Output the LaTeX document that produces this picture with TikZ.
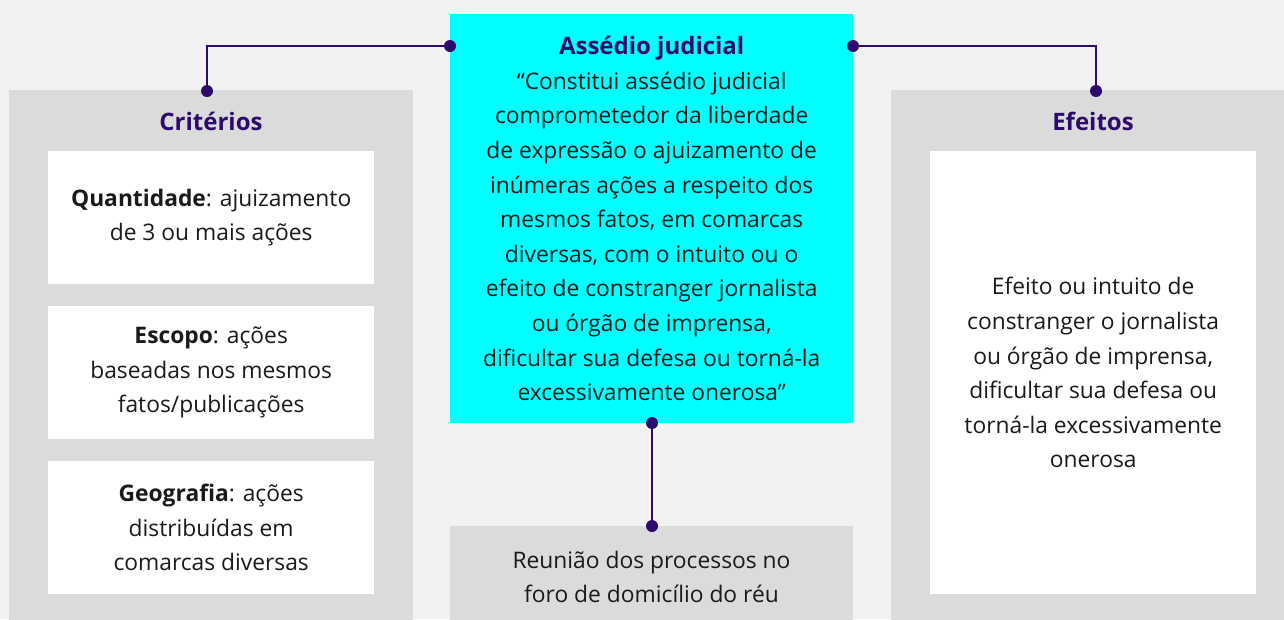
\documentclass[tikz,border=0pt]{standalone}
\usepackage{fontspec}
\setmainfont{Open Sans}
\definecolor{bgc}{HTML}{F2F2F2}
\definecolor{panelc}{HTML}{DBDBDB}
\definecolor{cyanc}{HTML}{00FFFF}
\definecolor{purp}{HTML}{2D0A6E}
\definecolor{txt}{HTML}{1A1A1A}
\begin{document}
\begin{tikzpicture}[x=1pt,y=-1pt,
  panel/.style={fill=panelc, inner sep=0pt, anchor=north west},
  wbox/.style={fill=white, inner sep=0pt, anchor=north west},
  body/.style={font=\fontsize{22.8}{34.6}\selectfont, text=txt, align=center, inner sep=0pt},
  head/.style={font=\fontsize{24}{34.6}\selectfont\bfseries, text=purp, inner sep=0pt, anchor=base},
  dot/.style={circle, fill=purp, inner sep=0pt, minimum size=12pt},
  link/.style={draw=purp, line width=2.4pt}]
\useasboundingbox (0,0) rectangle (1284,619);
\fill[bgc] (0,0) rectangle (1284,619);
\begin{scope}
\clip (0,0) rectangle (1284,619);
% panels
\node[panel, minimum width=404pt, minimum height=540pt] (left) at (9,90) {};
\node[panel, minimum width=404pt, minimum height=540pt] (right) at (891,90) {};
\node[fill=cyanc, inner sep=0pt, anchor=north west, minimum width=403pt, minimum height=409pt] (center) at (450,14) {};
\node[panel, minimum width=403pt, minimum height=100pt] (bottom) at (450,526) {};
% white boxes
\node[wbox, minimum width=326pt, minimum height=133pt] (q) at (48,151) {};
\node[wbox, minimum width=326pt, minimum height=133pt] (e) at (48,306) {};
\node[wbox, minimum width=326pt, minimum height=133pt] (g) at (48,461) {};
\node[wbox, minimum width=326pt, minimum height=443pt] (ef) at (930,151) {};
\end{scope}
% headings
\node[head] (crith) at (211,130) {Critérios};
\node[head] (efh) at (1093,130) {Efeitos};
% texts
\node[body] (ctext) at (center.center) {{\fontsize{24}{34.6}\selectfont\bfseries\color{purp}Assédio judicial}\\
“Constitui assédio judicial\\
comprometedor da liberdade\\
de expressão o ajuizamento de\\
inúmeras ações a respeito dos\\
mesmos fatos, em comarcas\\
diversas, com o intuito ou o\\
efeito de constranger jornalista\\
ou órgão de imprensa,\\
dificultar sua defesa ou torná-la\\
excessivamente onerosa”};
\node[body] (qtext) at (q.center) {\textbf{Quantidade}: ajuizamento\\de 3 ou mais ações};
\node[body] (etext) at (e.center) {\textbf{Escopo}: ações\\baseadas nos mesmos\\fatos/publicações};
\node[body] (gtext) at (g.center) {\textbf{Geografia}: ações\\distribuídas em\\comarcas diversas};
\node[body] (eftext) at (ef.center) {Efeito ou intuito de\\constranger o jornalista\\ou órgão de imprensa,\\dificultar sua defesa ou\\torná-la excessivamente\\onerosa};
\node[body] (btext) at (651.5,577) {Reunião dos processos no\\foro de domicílio do réu};
% connectors
\coordinate (cl) at (450,46);
\coordinate (cr) at (853,46);
\coordinate (cb) at (652,423);
\coordinate (lt) at (207,91);
\coordinate (rt) at (1096,91);
\coordinate (bt) at (652,526);
\draw[link] (cl) -| (lt);
\draw[link] (cr) -| (rt);
\draw[link] (cb) -- (bt);
\foreach \p in {cl,cr,cb,lt,rt,bt} \node[dot] at (\p) {};
\end{tikzpicture}
\end{document}
